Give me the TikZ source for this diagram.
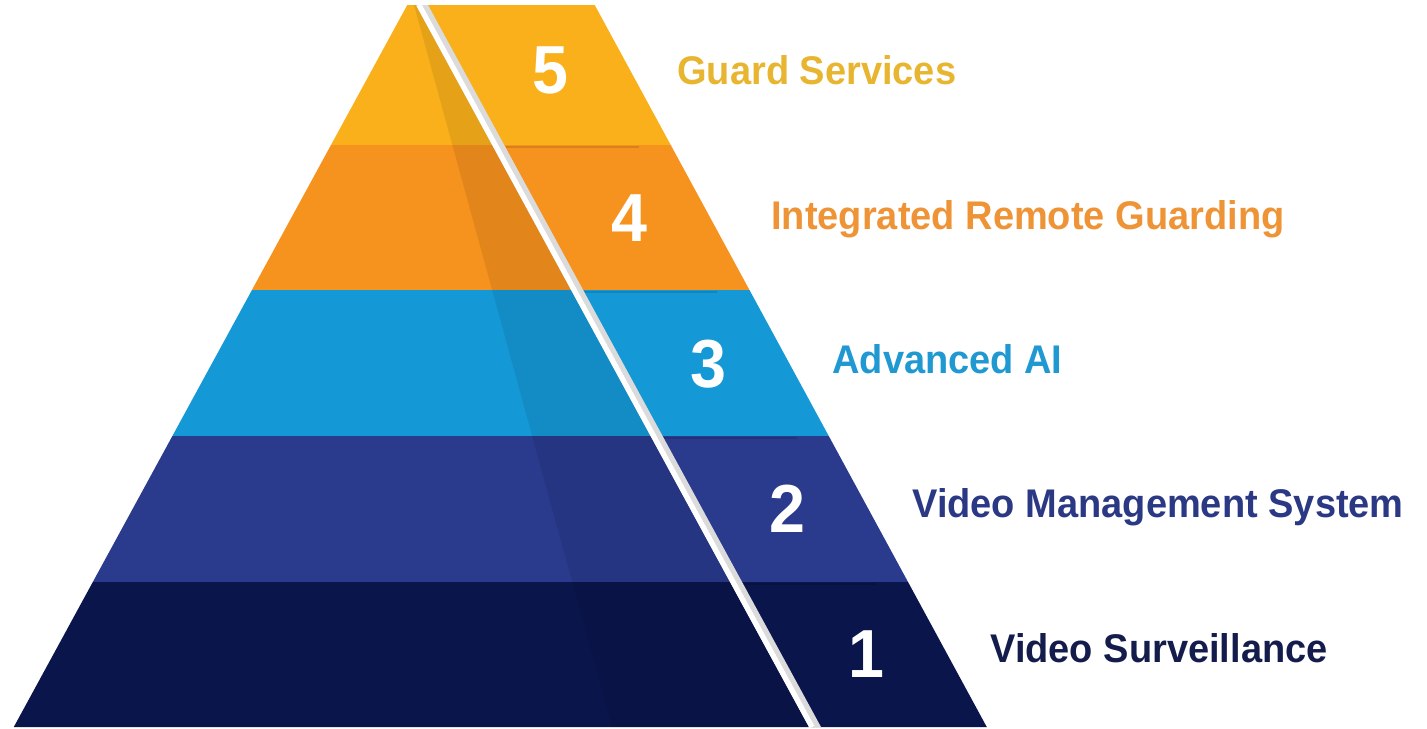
\documentclass[tikz,border=0pt]{standalone}
\usepackage{fontspec}
\setmainfont{Liberation Sans}[FakeStretch=0.95]
\definecolor{lvlfive}{RGB}{249,176,27}
\definecolor{lvlfour}{RGB}{246,146,30}
\definecolor{lvlthree}{RGB}{21,152,214}
\definecolor{lvltwo}{RGB}{42,58,140}
\definecolor{lvlone}{RGB}{10,21,76}
\definecolor{txtfive}{RGB}{232,181,48}
\definecolor{txtfour}{RGB}{238,148,55}
\definecolor{txtthree}{RGB}{32,153,210}
\definecolor{txttwo}{RGB}{43,57,133}
\definecolor{txtone}{RGB}{20,28,76}
\tikzset{
  num/.style={text=white, font=\fontsize{34}{34}\selectfont\bfseries, inner sep=0pt},
  lbl/.style={anchor=base west, font=\fontsize{20}{20}\selectfont\bfseries, inner sep=0pt}
}
\begin{document}
\begin{tikzpicture}[x=0.5pt, y=-0.5pt]
            \useasboundingbox (0,0) rectangle (1427,728);
            % bands, full width, the cut is painted over them
            \foreach \t/\b/\col in {5/145/lvlfive, 145/290/lvlfour, 290/436/lvlthree, 436/582/lvltwo, 582/727/lvlone}
                \fill[\col] ({410-0.545*\t},\t) -- ({592+0.543*\t},\t)
                -- ({592+0.543*\b},\b) -- ({410-0.545*\b},\b) -- cycle;
            % darker face of the left part
            \fill[black, opacity=0.08] (414,5) -- (612,727) -- (808,727) -- (417,5) -- cycle;
            % fold shadows on the right part
            \foreach \t in {145, 290, 436, 582}
                \draw[black, opacity=0.12, line width=1pt] ({427+0.542*\t},\t+2) -- ({560+0.543*\t},\t+2);
            % the cut
            \fill[black!14] (416,5) -- (428,5) -- (821,727) -- (809,727) -- cycle;
            \draw[white, line width=2.6pt] (419,5) -- (812,727);
            \node[num] (n5) at (550,70) {5};
            \node[num] (n4) at (629,218) {4};
            \node[num] (n3) at (708,364) {3};
            \node[num] (n2) at (787,509) {2};
            \node[num] (n1) at (866,654) {1};
            \node[lbl, text=txtfive] (l5) at (677,84) {Guard Services};
            \node[lbl, text=txtfour] (l4) at (771,229) {Integrated Remote Guarding};
            \node[lbl, text=txtthree] (l3) at (832,373) {Advanced AI};
            \node[lbl, text=txttwo] (l2) at (912,517) {Video Management System};
            \node[lbl, text=txtone] (l1) at (990,662) {Video Surveillance};
        \end{tikzpicture}
\end{document}
